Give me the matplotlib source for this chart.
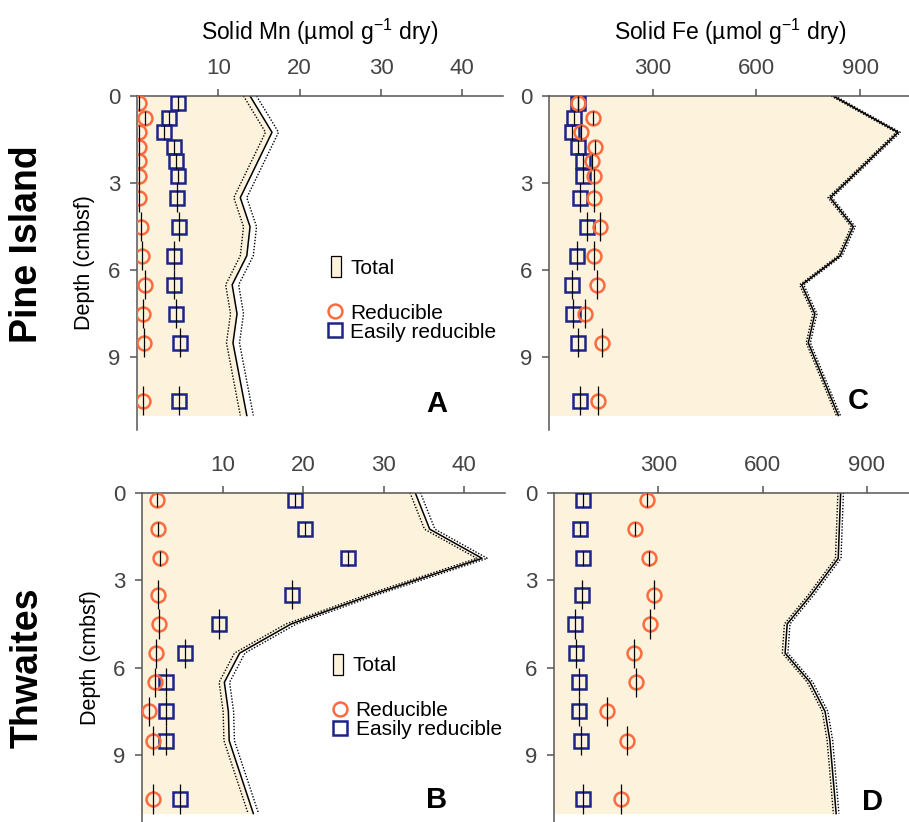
import numpy as np
import matplotlib
matplotlib.use('Agg')
import matplotlib.pyplot as plt
from matplotlib.patches import Patch
from matplotlib.lines import Line2D

plt.rcParams['font.family'] = ['Liberation Sans', 'DejaVu Sans']
plt.rcParams['mathtext.default'] = 'regular'

# sample depths (cmbsf) and half-thickness of each slice
pi_depth = [0.25, 0.75, 1.25, 1.75, 2.25, 2.75, 3.5, 4.5, 5.5, 6.5, 7.5, 8.5, 10.5]
pi_derr = [0.25, 0.25, 0.25, 0.25, 0.25, 0.25, 0.5, 0.5, 0.5, 0.5, 0.5, 0.5, 0.5]
thw_depth = [0.25, 1.25, 2.25, 3.5, 4.5, 5.5, 6.5, 7.5, 8.5, 10.5]
thw_derr = [0.25, 0.25, 0.25, 0.5, 0.5, 0.5, 0.5, 0.5, 0.5, 0.5]

# Pine Island Mn
pi_mn_red = [0.3, 1.0, 0.3, 0.3, 0.3, 0.3, 0.3, 0.5, 0.6, 1.0, 0.7, 0.8, 0.7]
pi_mn_easy = [5.0, 3.9, 3.3, 4.5, 4.8, 5.0, 4.9, 5.2, 4.5, 4.6, 4.8, 5.3, 5.2]
# Pine Island Fe
pi_fe_red = [85, 126, 93, 133, 123, 131, 131, 148, 131, 140, 104, 152, 143]
pi_fe_easy = [85, 72, 66, 85, 99, 99, 90, 109, 82, 66, 70, 85, 90]
# Thwaites Mn
thw_mn_red = [1.8, 1.9, 2.2, 2.0, 2.1, 1.7, 1.6, 0.8, 1.3, 1.3]
thw_mn_easy = [19.0, 20.2, 25.6, 18.6, 9.5, 5.3, 3.0, 2.9, 2.9, 4.7]
# Thwaites Fe
thw_fe_red = [268, 233, 273, 287, 276, 230, 236, 153, 209, 191]
thw_fe_easy = [82, 74, 84, 79, 60, 63, 71, 72, 76, 82]

# total concentrations
pi_tot_depth = [0, 1.25, 3.5, 4.5, 5.5, 6.5, 7.5, 8.5, 11]
pi_mn_tot = [13.9, 16.6, 12.7, 13.9, 13.5, 11.7, 12.3, 11.8, 13.5]
pi_fe_tot = [822, 1010, 813, 880, 842, 731, 769, 750, 837]
thw_tot_depth = [0, 1.25, 2.25, 3.5, 4.5, 5.5, 6.5, 7.5, 8.5, 11]
thw_mn_tot = [33.9, 35.7, 42.2, 28.5, 18.5, 12.1, 10.2, 10.7, 10.8, 13.8]
thw_fe_tot = [825, 821, 818, 740, 671, 665, 737, 780, 794, 812]
tot_err = {'A': 0.8, 'B': 0.65, 'C': 6, 'D': 8}

fill_c = '#fdf3dd'
red_c = '#fc6b3f'
easy_c = '#1c2486'
spine_c = '#555555'

W, H = 909, 822
fig = plt.figure(figsize=(W / 100, H / 100), dpi=100)


def box(l, t, w, h):
    return [l / W, 1 - (t + h) / H, w / W, h / H]


def panel(rect, depth, derr, red, easy, tdepth, tot, err, xmax, xticks, ymax, letter, lpos):
    ax = fig.add_axes(rect)
    tdepth = np.array(tdepth)
    tot = np.array(tot)
    ax.fill_betweenx(tdepth, 0, tot, color=fill_c, lw=0, zorder=1)
    ax.plot(tot, tdepth, color='black', lw=1.1, zorder=2)
    ax.plot(tot - err, tdepth, color='black', lw=1.0, ls=(0, (1, 1.2)), zorder=2)
    ax.plot(tot + err, tdepth, color='black', lw=1.0, ls=(0, (1, 1.2)), zorder=2)
    ax.plot(easy, depth, ls='none', marker='s', ms=10, mfc='none', mec=easy_c, mew=1.8, zorder=3)
    ax.plot(red, depth, ls='none', marker='o', ms=10, mfc='none', mec=red_c, mew=1.8, zorder=4)
    ax.errorbar(easy, depth, yerr=derr, fmt='none', ecolor='black', elinewidth=0.9, capsize=0, zorder=5)
    ax.errorbar(red, depth, yerr=derr, fmt='none', ecolor='black', elinewidth=0.9, capsize=0, zorder=5)
    ax.set_xlim(0, xmax)
    ax.set_ylim(ymax, 0)
    ax.xaxis.tick_top()
    ax.set_xticks(xticks)
    ax.set_yticks([0, 3, 6, 9])
    ax.tick_params(direction='out', length=5, width=1.1, color=spine_c,
                   labelcolor='#444444', labelsize=16, pad=7)
    for s in ['right', 'bottom']:
        ax.spines[s].set_visible(False)
    for s in ['top', 'left']:
        ax.spines[s].set_color(spine_c)
        ax.spines[s].set_linewidth(1.1)
    ax.text(lpos[0], lpos[1], letter, transform=ax.transAxes, fontsize=21,
            fontweight='bold', ha='center', va='center')
    return ax


axA = panel(box(137, 96, 366, 334), pi_depth, pi_derr, pi_mn_red, pi_mn_easy,
            pi_tot_depth, pi_mn_tot, tot_err['A'], 45, [10, 20, 30, 40], 11.5, 'A', (0.82, 0.078))
axB = panel(box(142.2, 492.7, 362.4, 329.6), thw_depth, thw_derr, thw_mn_red, thw_mn_easy,
            thw_tot_depth, thw_mn_tot, tot_err['B'], 45, [10, 20, 30, 40], 11.3, 'B', (0.813, 0.068))
axC = panel(box(549, 96, 363, 334), pi_depth, pi_derr, pi_fe_red, pi_fe_easy,
            pi_tot_depth, pi_fe_tot, tot_err['C'], 1050, [300, 600, 900], 11.5, 'C', (0.851, 0.087))
axD = panel(box(554.2, 492.7, 364.6, 329.6), thw_depth, thw_derr, thw_fe_red, thw_fe_easy,
            thw_tot_depth, thw_fe_tot, tot_err['D'], 1050, [300, 600, 900], 11.3, 'D', (0.872, 0.0625))

axA.xaxis.set_label_position('top')
axA.set_xlabel('Solid Mn (µmol g$^{-1}$ dry)', fontsize=16.5, labelpad=13)
axC.xaxis.set_label_position('top')
axC.set_xlabel('Solid Fe (µmol g$^{-1}$ dry)', fontsize=16.5, labelpad=13)
axA.set_ylabel('Depth (cmbsf)', fontsize=15.5, labelpad=9)
axB.set_ylabel('Depth (cmbsf)', fontsize=15.5, labelpad=9)

fig.text(0.03, 0.703, 'Pine Island', rotation=90, fontsize=27, fontweight='bold',
         ha='center', va='center')
fig.text(0.03, 0.188, 'Thwaites', rotation=90, fontsize=27, fontweight='bold',
         ha='center', va='center')

# legends
for ax, p1, p2 in [(axA, (0.53, 0.489), (0.515, 0.321)), (axB, (0.526, 0.479), (0.52, 0.31))]:
    h1 = [Patch(facecolor=fill_c, edgecolor='black', lw=0.9)]
    leg1 = ax.legend(h1, ['Total'], loc='center left', bbox_to_anchor=p1, frameon=False,
                     fontsize=15, handlelength=0.5, handleheight=1.2, handletextpad=0.45,
                     borderpad=0, borderaxespad=0)
    ax.add_artist(leg1)
    h2 = [Line2D([], [], ls='none', marker='o', ms=10, mfc='none', mec=red_c, mew=1.8),
          Line2D([], [], ls='none', marker='s', ms=10, mfc='none', mec=easy_c, mew=1.8)]
    ax.legend(h2, ['Reducible', 'Easily reducible'], loc='center left', bbox_to_anchor=p2,
              frameon=False, fontsize=15, handlelength=0.9, handletextpad=0.3,
              labelspacing=0.0, borderpad=0, borderaxespad=0)

fig.savefig('out.png', dpi=100)
